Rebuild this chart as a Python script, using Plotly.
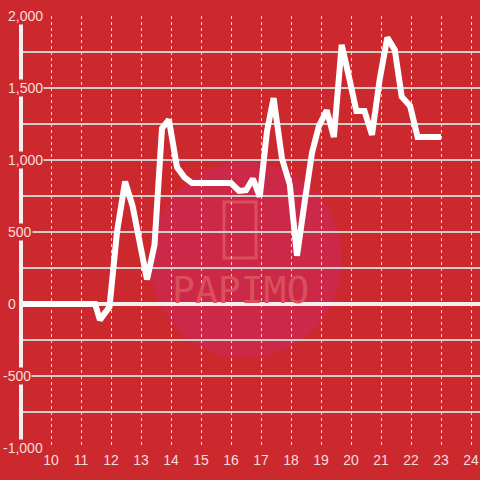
import plotly.graph_objects as go

# valores
x_vals = [9.0, 11.47, 11.63, 11.95, 12.2, 12.47, 12.72, 13.2, 13.45, 13.7, 13.93,
          14.2, 14.45, 14.7, 16.0, 16.27, 16.5, 16.73, 16.96, 17.2, 17.42, 17.7,
          17.96, 18.2, 18.45, 18.7, 18.93, 19.19, 19.43, 19.69, 19.93, 20.18,
          20.45, 20.7, 20.96, 21.21, 21.46, 21.69, 21.97, 22.22, 23.0]
y_vals = [0, 0, -110, -20, 500, 850, 680, 170, 410, 1220, 1280,
          950, 880, 840, 840, 785, 790, 870, 745, 1200, 1430, 1010,
          830, 335, 700, 1050, 1235, 1345, 1160, 1800, 1580, 1340,
          1340, 1175, 1565, 1850, 1765, 1440, 1375, 1160, 1160]

y_label_vals = [-1000, -500, 0, 500, 1000, 1500, 2000]
x_tick_vals = list(range(10, 25))

BG = "#cc292e"
TXT = "#f6dcdc"

fig = go.Figure()

fig.add_trace(go.Scatter(
    x=x_vals, y=y_vals, mode="lines",
    line=dict(color="#ffffff", width=6),
    hoverinfo="skip", showlegend=False
))

# marca d'água (círculo rosa + texto)
fig.add_shape(type="circle", xref="paper", yref="paper",
              x0=(150 - 21) / 459, x1=(342 - 21) / 459,
              y0=(448 - 358) / 432, y1=(448 - 162) / 432,
              fillcolor="#cc2848", line=dict(width=0), layer="below")
fig.add_shape(type="rect", xref="paper", yref="paper",
              x0=(224 - 21) / 459, x1=(256 - 21) / 459,
              y0=(448 - 258) / 432, y1=(448 - 202) / 432,
              line=dict(color="#d9505c", width=3), layer="below")
fig.add_annotation(text="PAPIMO", xref="paper", yref="paper",
                   x=(240 - 21) / 459, y=(448 - 290) / 432,
                   showarrow=False,
                   font=dict(family="DejaVu Sans Mono", size=38, color="#d9505c"))

# eixo y (linha branca)
fig.add_shape(type="line", xref="paper", yref="y", x0=0, x1=0, y0=-1000, y1=2000,
              line=dict(color="#f4f0f0", width=4), layer="above")

for v in y_label_vals:
    fig.add_annotation(
        text=f"{v:,}", xref="paper", yref="y", x=0, y=v,
        xanchor="left", yanchor="middle", showarrow=False,
        xshift=-19 if v < 0 else -14, bgcolor=BG, borderpad=0,
        font=dict(family="Liberation Sans, Arial", size=14, color=TXT)
    )

fig.update_layout(
    width=480, height=480,
    margin=dict(l=21, r=0, t=16, b=32, autoexpand=False),
    paper_bgcolor=BG, plot_bgcolor=BG,
    font=dict(family="Liberation Sans, Arial", size=14, color=TXT),
    showlegend=False,
    xaxis=dict(
        range=[9, 24.3], tickvals=x_tick_vals, ticks="",
        showgrid=True, gridcolor="#ead8d8", griddash="dot", gridwidth=1,
        zeroline=False, showline=False, ticklabelstandoff=2
    ),
    yaxis=dict(
        range=[-1000, 2000], dtick=250, showticklabels=False, ticks="",
        showgrid=True, gridcolor="#cfcfcf", gridwidth=1.5,
        zeroline=True, zerolinecolor="#f4f0f0", zerolinewidth=4, showline=False
    ),
)

fig.write_html(
    "out.html",
    config={"displayModeBar": False},
    post_script=f"document.body.style.margin='0';document.body.style.background='{BG}';",
)
